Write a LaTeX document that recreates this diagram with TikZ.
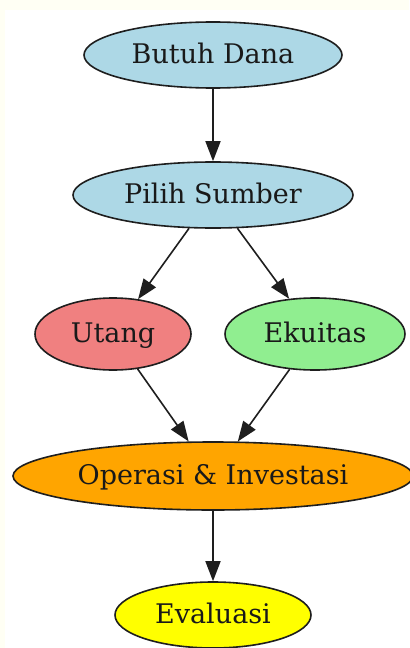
\documentclass[tikz,border=0pt]{standalone}
\usepackage{fontspec}
\setmainfont{DejaVu Serif}
\usetikzlibrary{shapes.geometric,arrows.meta}
\definecolor{fondo}{RGB}{255,255,244}
\definecolor{borde}{RGB}{30,30,30}
\definecolor{azul}{RGB}{173,216,230}
\definecolor{rojo}{RGB}{240,128,128}
\definecolor{verde}{RGB}{144,238,144}
\definecolor{naranja}{RGB}{255,165,0}
\definecolor{kuning}{RGB}{255,255,0}

\begin{document}
\begin{tikzpicture}[x=0.5pt, y=-0.5pt,
    >={Triangle[length=10pt,width=7.5pt]},
    elip/.style={ellipse, draw=borde, line width=0.8pt, inner sep=0pt,
      text height=1.6ex, text depth=0ex,
      font=\fontsize{13.5}{16}\selectfont, text=black!90},
    flecha/.style={->, line width=0.8pt, borde}]
  % fondo: franja crema arriba y a la izquierda
  \fill[fondo] (0,0) rectangle (409,648);
  \fill[white] (5,10) rectangle (409,648);
  \useasboundingbox (0,0) rectangle (409,648);
  % nodos
  \node[elip, fill=azul, minimum width=129pt, minimum height=33pt] (dana) at (213,55) {Butuh Dana};
  \node[elip, fill=azul, minimum width=140pt, minimum height=33pt] (sumber) at (213,195) {Pilih Sumber};
  \node[elip, fill=rojo, minimum width=78pt, minimum height=36pt] (utang) at (113,334) {Utang};
  \node[elip, fill=verde, minimum width=90pt, minimum height=36pt] (ekuitas) at (315,334) {Ekuitas};
  \node[elip, fill=naranja, minimum width=200pt, minimum height=34pt] (operasi) at (213,476) {Operasi \& Investasi};
  \node[elip, fill=kuning, minimum width=98pt, minimum height=33pt] (evaluasi) at (213,615) {Evaluasi};
  % flechas
  \draw[flecha] (dana) -- (sumber);
  \draw[flecha] (sumber) -- (utang);
  \draw[flecha] (sumber) -- (ekuitas);
  \draw[flecha] (utang) -- (operasi);
  \draw[flecha] (ekuitas) -- (operasi);
  \draw[flecha] (operasi) -- (evaluasi);
\end{tikzpicture}
\end{document}
